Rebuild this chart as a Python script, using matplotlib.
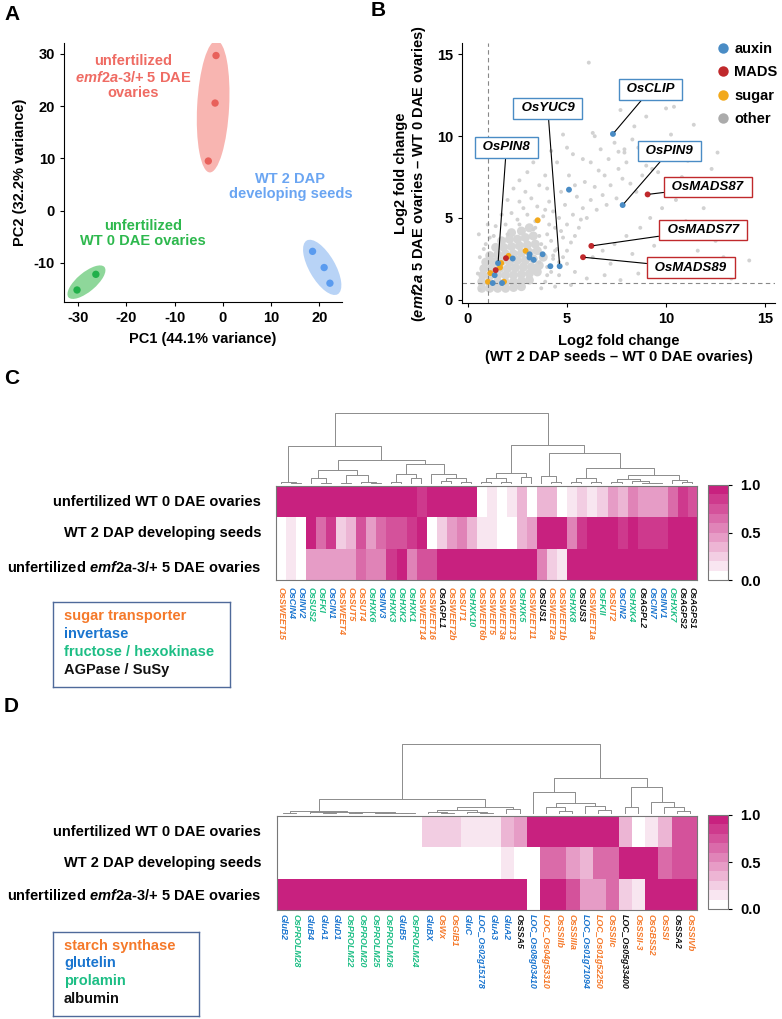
import numpy as np
import matplotlib
matplotlib.use("Agg")
import matplotlib.pyplot as plt
import matplotlib.transforms as mtransforms
from matplotlib.colors import LinearSegmentedColormap
from matplotlib.patches import Ellipse
from matplotlib.lines import Line2D

plt.rcParams['font.family'] = ['Liberation Sans', 'DejaVu Sans']
plt.rcParams['font.weight'] = 'bold'
plt.rcParams['axes.labelweight'] = 'bold'
plt.rcParams['axes.unicode_minus'] = False
plt.rcParams['mathtext.fontset'] = 'custom'
plt.rcParams['mathtext.rm'] = 'Liberation Sans:bold'
plt.rcParams['mathtext.it'] = 'Liberation Sans:italic:bold'
plt.rcParams['mathtext.bf'] = 'Liberation Sans:bold'

# ---------------- data: panel A (PCA) ----------------
pc1_emf2a = [-1.4, -1.6, -3.0]
pc2_emf2a = [29.7, 20.6, 9.5]
pc1_wt0 = [-30.2, -26.3]
pc2_wt0 = [-15.2, -12.2]
pc1_wt2 = [18.6, 21.0, 22.2]
pc2_wt2 = [-7.8, -10.9, -13.9]

# ---------------- data: panel B (log2 fold changes) ----------------
auxin_x = [7.32, 5.10, 7.81, 3.77, 3.11, 3.11, 3.32, 2.26, 4.63, 4.16, 1.52, 1.35, 1.25, 1.72]
auxin_y = [10.14, 6.73, 5.79, 2.78, 2.78, 2.58, 2.44, 2.52, 2.05, 2.05, 2.24, 1.50, 1.02, 1.02]
mads_x = [9.07, 6.23, 5.81, 1.92, 1.40]
mads_y = [6.44, 3.29, 2.60, 2.54, 1.81]
sugar_x = [3.52, 2.91, 2.05, 1.68, 1.62, 1.13, 1.01, 1.82]
sugar_y = [4.86, 2.99, 2.68, 2.24, 1.97, 1.63, 1.10, 1.10]
other_core_x = [0.7, 1.1, 1.5, 1.9, 2.3, 2.7,
                0.7, 1.1, 1.5, 1.9, 2.3, 2.7, 3.1,
                0.75, 1.1, 1.5, 1.9, 2.3, 2.7, 3.1, 3.5,
                0.8, 1.2, 1.6, 2.0, 2.4, 2.8, 3.2, 3.6,
                0.9, 1.3, 1.7, 2.1, 2.5, 2.9, 3.3, 3.8,
                1.1, 1.5, 1.9, 2.3, 2.7, 3.1, 3.5,
                1.4, 1.8, 2.2, 2.6, 3.0, 3.4,
                1.7, 2.1, 2.5, 2.9, 3.3,
                2.2, 2.7, 3.1]
other_core_y = [0.7, 0.7, 0.7, 0.7, 0.75, 0.8,
                1.1, 1.0, 1.1, 1.05, 1.1, 1.15, 1.2,
                1.5, 1.45, 1.5, 1.5, 1.5, 1.55, 1.6, 1.7,
                1.9, 1.9, 1.9, 1.9, 1.95, 2.0, 2.0, 2.1,
                2.3, 2.3, 2.35, 2.3, 2.4, 2.4, 2.5, 2.6,
                2.7, 2.75, 2.8, 2.8, 2.85, 2.9, 3.0,
                3.2, 3.2, 3.25, 3.3, 3.35, 3.4,
                3.6, 3.7, 3.7, 3.8, 3.9,
                4.1, 4.2, 4.4]
other_x = [3.9, 4.2, 4.5, 4.0, 4.4, 4.8, 5.0, 4.6, 5.3, 5.6, 5.2, 5.8, 6.0, 6.2, 5.5, 6.5, 6.8, 7.0,
           6.4, 7.2, 7.5, 6.9, 7.8, 7.6, 8.2, 8.0, 8.5, 8.8, 5.9, 6.6, 4.9, 4.3, 3.8, 3.4, 3.0, 3.5,
           4.1, 4.7, 5.4, 3.2, 2.8, 2.5, 2.2, 4.0, 5.1, 6.2, 7.1, 7.9, 8.6, 6.7, 5.8, 9.1, 9.6, 9.4,
           8.3, 9.9, 10.3, 7.4, 10.0, 10.4, 6.3, 6.4, 4.8, 10.25, 7.6, 7.9, 9.0, 9.3, 6.1, 5.3, 4.5,
           3.9, 3.6, 2.9, 11.1, 10.8, 11.5, 12.0, 10.5, 9.8, 9.2, 8.7, 8.0, 7.4, 6.8, 6.3, 7.2, 8.3,
           9.4, 10.1, 11.0, 10.7, 11.6, 12.5, 12.9, 13.3, 11.8, 9.7, 8.6, 7.7, 6.9, 6.0, 5.4, 5.0,
           4.6, 4.3, 3.9, 4.4, 5.2, 3.7, 9.0, 8.4, 11.4, 12.3, 12.6, 13.0, 11.9, 12.2, 13.6, 14.2,
           10.2, 8.9, 7.7, 5.6, 5.0, 4.2, 3.3, 2.6, 2.0, 1.7, 1.4, 1.1, 0.8, 0.6, 0.55, 1.0, 2.3,
           3.0, 1.9, 2.6,
           4.0, 4.3, 4.6, 3.7, 4.1, 4.7, 5.0, 3.4, 3.9, 4.4, 5.4, 5.7, 4.2, 4.8, 3.6, 0.5, 0.6,
           0.9, 1.3, 2.0, 2.6, 3.3, 3.6, 4.0]
other_y = [3.2, 3.6, 3.1, 4.0, 4.4, 3.8, 4.6, 5.0, 5.2, 4.4, 3.5, 5.6, 5.0, 6.1, 6.3, 5.5, 6.4, 5.8,
           6.9, 7.0, 6.2, 7.6, 7.4, 8.0, 7.1, 8.4, 6.6, 7.6, 7.2, 7.9, 5.8, 5.4, 5.1, 4.8, 5.2, 5.7,
           6.0, 6.6, 7.0, 6.2, 5.6, 4.9, 5.3, 6.8, 7.6, 8.4, 8.6, 9.0, 9.3, 9.2, 8.6, 8.6, 7.8, 9.4,
           9.8, 8.9, 9.6, 9.6, 11.7, 11.8, 10.2, 10.0, 10.1, 10.1, 9.05, 9.2, 8.2, 8.0, 14.5, 8.9, 8.4,
           7.6, 7.0, 6.6, 8.5, 7.5, 7.2, 6.8, 6.1, 5.6, 5.0, 4.4, 3.9, 3.4, 3.0, 2.6, 2.2, 2.8,
           3.3, 3.9, 4.8, 2.4, 3.0, 3.6, 2.6, 1.3, 1.9, 1.4, 1.6, 1.2, 1.5, 1.3, 1.7, 2.2,
           1.5, 2.5, 1.1, 0.8, 0.9, 0.7, 11.2, 10.6, 10.7, 8.0, 9.0, 7.3, 5.6, 4.6, 4.2, 2.4,
           12.6, 12.5, 11.6, 11.2, 9.3, 9.1, 8.4, 7.3, 6.1, 5.2, 4.5, 3.8, 3.1, 2.6, 4.0, 4.6, 6.8,
           7.8, 4.6, 6.0,
           2.0, 2.7, 2.3, 3.4, 4.6, 4.2, 3.0, 4.4, 5.5, 3.0, 3.9, 4.9, 1.7, 2.6, 2.3, 1.6, 0.6,
           3.4, 3.9, 4.0, 4.6, 4.3, 3.9, 1.5]
label_genes = ['OsCLIP', 'OsYUC9', 'OsPIN8', 'OsPIN9', 'OsMADS87', 'OsMADS77', 'OsMADS89']
label_gene_x = [7.32, 4.63, 1.52, 7.81, 9.07, 6.23, 5.81]
label_gene_y = [10.14, 2.05, 2.24, 5.79, 6.44, 3.29, 2.60]
label_gene_class = ['auxin', 'auxin', 'auxin', 'auxin', 'MADS', 'MADS', 'MADS']

# ---------------- data: panel C heatmap ----------------
sample_rows = ['unfertilized WT 0 DAE ovaries', 'WT 2 DAP developing seeds',
               'unfertilized $\\mathit{emf2a}$-$\\mathit{3/}$+ 5 DAE ovaries']
sugar_genes = ['OsSWEET15', 'OsCIN4', 'OsINV2', 'OsSUS2', 'OsFKI', 'OsCIN1', 'OsSWEET4', 'OsSUT5',
               'OsSUT4', 'OsHXK6', 'OsINV3', 'OsHXK3', 'OsHXK2', 'OsHXK1', 'OsSWEET14', 'OsSWEET16',
               'OsAGPL1', 'OsSWEET2b', 'OsSUT1', 'OsHXK10', 'OsSWEET6b', 'OsSWEET5', 'OsSWEET3a',
               'OsSWEET13', 'OsHXK5', 'OsSWEET11', 'OsSUS1', 'OsSWEET2a', 'OsSWEET1b', 'OsHXK8',
               'OsSUS3', 'OsSWEET1a', 'OsFKII', 'OsSUT2', 'OsCIN2', 'OsHXK4', 'OsAGPL2', 'OsCIN7',
               'OsINV1', 'OsHXK7', 'OsAGPS2', 'OsAGPS1']
sugar_class = ['s', 'i', 'i', 'f', 'f', 'i', 's', 's', 's', 'f', 'i', 'f', 'f', 'f', 's', 's',
               'a', 's', 's', 'f', 's', 's', 's', 's', 'f', 's', 'a', 's', 's', 'f',
               'a', 's', 'f', 's', 'i', 'f', 'a', 'i', 'i', 'f', 'a', 'a']
sugar_wt0 = [1, 1, 1, 1, 1, 1, 1, 1, 1, 1, 1, 1, 1, 1, 0.8, 1, 0.9, 0.9, 1, 1,
             0, 0.15, 0, 0.15, 0.35, 0, 0.35, 0.35, 0, 0.12, 0.2, 0.12, 0.2, 0.4, 0.3,
             0.55, 0.45, 0.45, 0.45, 0.6, 0.85, 0.7]
sugar_wt2 = [0, 0.1, 0, 1, 0.65, 0.8, 0.25, 0.35, 0.7, 0.4, 0.6, 0.75, 0.75, 0.85, 0.9, 0.05,
             0.25, 0.4, 0.5, 0.35, 0.12, 0.12, 0, 0, 0.3, 0.4, 1, 1, 1, 0.55, 0.8, 1, 1, 1,
             0.85, 1, 0.85, 0.85, 0.85, 0.9, 1, 1]
sugar_emf2a = [0, 0.1, 0, 0.45, 0.45, 0.45, 0.45, 0.45, 0.6, 0.5, 0.5, 0.85, 1, 0.5, 0.75, 0.75,
               1, 1, 0.9, 0.9, 1, 1, 1, 1, 1, 1, 0.55, 0.2, 0.15, 1, 1, 1, 1, 1, 1, 1, 1, 1,
               1, 1, 1, 1]
# dendrogram: (left, right, height), leaves are column indices
sugar_tree = (
    ((0, (1, 2, 4), 7),
     (((3, (4, 5, 5), 18), ((6, 7, 5), (8, (9, 10, 3), 8), 27), 42),
      (((11, 12, 6), (13, 14, 18), 30), (15, ((16, 17, 10), (18, 19, 7), 20), 32), 61), 73), 113),
    ((((20, 21, 6), (22, 23, 8), 20), (24, 25, 22), 33),
     ((26, (27, 28, 8), 25),
      (((29, 30, 6), (31, 32, 6), 18),
       (((33, 34, 8), (35, (36, (37, 38, 3), 5), 10), 15), (39, (40, 41, 6), 12), 27), 47), 93), 117),
    210)

# ---------------- data: panel D heatmap ----------------
storage_genes = ['GluB2', 'OsPROLM28', 'GluB4', 'GluA1', 'GluD1', 'OsPROLM22', 'OsPROLM20',
                 'OsPROLM25', 'OsPROLM26', 'GluB5', 'OsPROLM24', 'GluBX', 'OsWx', 'OsGIB1', 'GluC',
                 'LOC_Os02g15178', 'GluA3', 'GluA2', 'OsSSA5', 'LOC_Os08g03410', 'LOC_Os04g53310',
                 'OsSSIIb', 'OsSSIIIa', 'LOC_Os01g71094', 'LOC_Os01g52250', 'OsSSIIc',
                 'LOC_Os05g33400', 'OsSSII-3', 'OsGBSS2', 'OsSSI', 'OsSSA2', 'OsSSIVb']
storage_class = ['g', 'p', 'g', 'g', 'g', 'p', 'p', 'p', 'p', 'g', 'p', 'g', 's', 's', 'g',
                 'g', 'g', 'g', 'a', 'g', 's', 's', 's', 'g', 's', 's', 'a', 's', 's', 's', 'a', 's']
storage_wt0 = [0, 0, 0, 0, 0, 0, 0, 0, 0, 0, 0, 0.25, 0.25, 0.25, 0.12, 0.12, 0.12, 0.35, 0.45,
               0.95, 0.9, 1, 1, 1, 1, 1, 0.35, 0, 0.12, 0.35, 0.7, 0.75]
storage_wt2 = [0, 0, 0, 0, 0, 0, 0, 0, 0, 0, 0, 0, 0, 0, 0, 0, 0, 0.12, 0, 0, 0.6, 0.6, 0.45,
               0.35, 0.65, 0.65, 1, 1, 1, 0.65, 0.75, 0.75]
storage_emf2a = [1, 1, 1, 1, 1, 1, 1, 1, 1, 1, 1, 1, 1, 1, 1, 1, 1, 1, 1, 0, 1, 0.9, 0.75,
                 0.45, 0.45, 0.6, 0.2, 0.1, 1, 1, 1, 1]
storage_tree = (
    (((0, 1, 2), ((2, (3, 4, 1), 3), ((5, 6, 1), ((7, 8, 1), (9, 10, 1), 2), 3), 5), 8),
     (((11, (12, 13, 2), 5), (14, (15, 16, 2), 4), 10), (17, 18, 12), 20), 43),
    ((19, ((20, (21, 22, 8), 18), (23, (24, 25, 10), 23), 31), 65),
     ((26, 27, 18), (28, (29, (30, 31, 8), 18), 35), 78), 105),
    205)

# ---------------- styles ----------------
ORANGE, BLUE, GREEN, BLACK = '#F5792A', '#1A75CF', '#1DBE85', '#111111'
class_color_c = {'s': ORANGE, 'i': BLUE, 'f': GREEN, 'a': BLACK}
class_color_d = {'s': ORANGE, 'g': BLUE, 'p': GREEN, 'a': BLACK}
cat_color = {'auxin': '#4A8CC5', 'MADS': '#C0292C', 'sugar': '#F2A91C', 'other': '#ABABAB'}
heat_cmap = LinearSegmentedColormap.from_list('wm', ['#FFFFFF', '#C8217F'], N=10)

W, H = 782, 1019
fig = plt.figure(figsize=(W / 100, H / 100), dpi=100)


def box(l, t, r, b):
    return [l / W, 1 - b / H, (r - l) / W, (b - t) / H]


FS = 10.5

# ---------------- panel A ----------------
axA = fig.add_axes(box(64, 43, 342, 302))
groups = [(pc1_emf2a, pc2_emf2a, '#E8615B', '#F8B5B1', (0.32, 1.32, -3)),
          (pc1_wt0, pc2_wt0, '#22B04B', '#8ED79A', (0.47, 0.19, 40)),
          (pc1_wt2, pc2_wt2, '#5A9BEF', '#B8D3F6', (0.62, 0.26, -60))]
for xs, ys, pc, ec, (ew, eh, ang) in groups:
    cx, cy = np.mean(xs), np.mean(ys)
    tr = fig.dpi_scale_trans + mtransforms.ScaledTranslation(cx, cy, axA.transData)
    axA.add_patch(Ellipse((0, 0), ew, eh, angle=ang, transform=tr, fc=ec, ec='none', zorder=1))
    axA.scatter(xs, ys, s=28, color=pc, edgecolors='none', zorder=2)
axA.set_xlim(-32.9, 24.7)
axA.set_ylim(-17.5, 32.1)
axA.set_xticks([-30, -20, -10, 0, 10, 20])
axA.set_yticks([-10, 0, 10, 20, 30])
axA.set_xlabel('PC1 (44.1% variance)', fontsize=FS, labelpad=5)
axA.set_ylabel('PC2 (32.2% variance)', fontsize=FS, labelpad=5)
axA.tick_params(labelsize=FS, width=0.8, length=3)
for s in ['top', 'right']:
    axA.spines[s].set_visible(False)
axA.text(-18.6, 25.6, 'unfertilized\n$\\mathit{emf2a}$-$\\mathit{3/}$+ 5 DAE\novaries', color='#EF6B63',
         fontsize=FS, ha='center', va='center', multialignment='center', linespacing=1.15)
axA.text(-16.5, -4.4, 'unfertilized\nWT 0 DAE ovaries', color='#2DB84D', fontsize=FS,
         ha='center', va='center', multialignment='center', linespacing=1.15)
axA.text(14.0, 4.6, 'WT 2 DAP\ndeveloping seeds', color='#6AA5F2', fontsize=FS,
         ha='center', va='center', multialignment='center', linespacing=1.15)

# ---------------- panel B ----------------
axB = fig.add_axes(box(462, 43, 775, 303))
axB.scatter(other_core_x, other_core_y, s=42, color='#D6D6D6', edgecolors='none', zorder=1)
axB.scatter(other_x, other_y, s=8, color='#D2D2D2', edgecolors='none', zorder=1)
axB.axvline(1, color='#888888', lw=0.8, ls=(0, (4, 3)), zorder=2)
axB.axhline(1, color='#888888', lw=0.8, ls=(0, (4, 3)), zorder=2)
for xs, ys, cat in [(sugar_x, sugar_y, 'sugar'), (auxin_x, auxin_y, 'auxin'), (mads_x, mads_y, 'MADS')]:
    axB.scatter(xs, ys, s=18, color=cat_color[cat], edgecolors='none', zorder=4)
label_pos = {'OsCLIP': (9.22, 12.86), 'OsYUC9': (4.03, 11.7), 'OsPIN8': (1.94, 9.33),
             'OsPIN9': (10.17, 9.09), 'OsMADS87': (12.11, 6.89), 'OsMADS77': (11.86, 4.27),
             'OsMADS89': (11.25, 1.95)}
for g, gx, gy, gc in zip(label_genes, label_gene_x, label_gene_y, label_gene_class):
    axB.annotate(' ' + g + ' ', xy=(gx, gy), xytext=label_pos[g], ha='center', va='center',
                 fontsize=9.5, fontweight='bold', fontstyle='italic', zorder=5,
                 bbox=dict(boxstyle='square,pad=0.33', fc='white', ec=cat_color[gc], lw=1),
                 arrowprops=dict(arrowstyle='-', color='black', lw=0.8, shrinkA=0, shrinkB=2))
axB.set_xlim(-0.3, 15.5)
axB.set_ylim(-0.2, 15.7)
axB.set_xticks([0, 5, 10, 15])
axB.set_yticks([0, 5, 10, 15])
axB.tick_params(labelsize=FS, width=0.8, length=3)
for s in ['top', 'right']:
    axB.spines[s].set_visible(False)
axB.set_xlabel('Log2 fold change\n(WT 2 DAP seeds – WT 0 DAE ovaries)', fontsize=FS, labelpad=6,
               linespacing=1.15)
axB.set_ylabel('Log2 fold change\n($\\mathit{emf2a}$ 5 DAE ovaries – WT 0 DAE ovaries)', fontsize=FS,
               labelpad=6, linespacing=1.15)
handles = [Line2D([], [], marker='o', ls='none', ms=7.5, color=cat_color[c], mec='none')
           for c in ['auxin', 'MADS', 'sugar', 'other']]
axB.legend(handles, ['auxin', 'MADS', 'sugar', 'other'], loc='upper left',
           bbox_to_anchor=(708 / W, 1 - 36 / H), bbox_transform=fig.transFigure, frameon=False,
           prop={'weight': 'bold', 'size': FS}, handletextpad=0.2, labelspacing=0.65,
           borderaxespad=0, handlelength=1.2)


# ---------------- heatmaps ----------------
def draw_tree(ax, node):
    if isinstance(node, int):
        return node, 0.0
    left, right, h = node
    xl, hl = draw_tree(ax, left)
    xr, hr = draw_tree(ax, right)
    ax.plot([xl, xl, xr, xr], [hl, h, h, hr], color='#8C8C8C', lw=0.7, solid_capstyle='butt')
    return (xl + xr) / 2, h


def heat_panel(hm_box, dd_box, cb_box, rows, genes, classes, colmap, tree, top_h, lab_pad, row_y):
    data = np.array(rows)
    n = data.shape[1]
    ax = fig.add_axes(box(*hm_box))
    im = ax.imshow(data, cmap=heat_cmap, vmin=0, vmax=1, aspect='auto', interpolation='nearest')
    ax.set_yticks([])
    ax.set_xticks(range(n))
    ax.set_xticklabels(genes, rotation=270, fontsize=6.4, fontstyle='italic', fontweight='bold',
                       ha='center', va='top')
    for lab, c in zip(ax.get_xticklabels(), classes):
        lab.set_color(colmap[c])
    ax.tick_params(axis='x', length=0, pad=lab_pad)
    for s in ax.spines.values():
        s.set_color('#777777')
        s.set_linewidth(0.8)
    for lab, yy in zip(sample_rows, row_y):
        fig.text(261 / W, 1 - yy / H, lab, ha='right', va='center', fontsize=FS)

    axd = fig.add_axes(box(*dd_box))
    draw_tree(axd, tree)
    axd.set_xlim(-0.5, n - 0.5)
    axd.set_ylim(0, top_h)
    axd.axis('off')

    cax = fig.add_axes(box(*cb_box))
    cb = fig.colorbar(im, cax=cax, ticks=[0, 0.5, 1])
    cb.ax.set_yticklabels(['0.0', '0.5', '1.0'], fontsize=FS, fontweight='bold')
    cb.ax.tick_params(length=3, width=0.8, pad=6)
    cb.outline.set_edgecolor('#777777')
    cb.outline.set_linewidth(0.8)


heat_panel((275.7, 485.7, 696.7, 579.7), (275.7, 413, 696.7, 484.5), (708, 485, 728, 580),
           [sugar_wt0, sugar_wt2, sugar_emf2a], sugar_genes, sugar_class, class_color_c,
           sugar_tree, 210, 5.5, [501.5, 533, 567])
heat_panel((276.7, 816, 696.7, 909.5), (276.7, 744.3, 696.7, 813.5), (708, 815, 728, 909),
           [storage_wt0, storage_wt2, storage_emf2a], storage_genes, storage_class, class_color_d,
           storage_tree, 205, 3, [831.5, 863, 895])


# ---------------- category legends ----------------
def legend_box(b, x0, entries):
    ax = fig.add_axes(box(*b))
    ax.set_xticks([])
    ax.set_yticks([])
    for s in ax.spines.values():
        s.set_color('#4F6A9A')
        s.set_linewidth(1)
    for (txt, col), yy in zip(entries, [0.83, 0.625, 0.415, 0.205]):
        ax.text(x0, yy, txt, color=col, fontsize=FS, ha='left', va='center', transform=ax.transAxes)


legend_box((53, 602, 230, 687), 0.064, [('sugar transporter', ORANGE), ('invertase', BLUE),
                                        ('fructose / hexokinase', GREEN), ('AGPase / SuSy', BLACK)])
legend_box((53, 932, 199, 1016), 0.075, [('starch synthase', ORANGE), ('glutelin', BLUE),
                                         ('prolamin', GREEN), ('albumin', BLACK)])

# ---------------- panel letters ----------------
for letter, x, y in [('A', 4, 14), ('B', 371, 11), ('C', 4, 378), ('D', 4, 707)]:
    fig.text(x / W, 1 - y / H, letter, fontsize=15, fontweight='bold', ha='left', va='center')

fig.savefig('out.png', dpi=100)
